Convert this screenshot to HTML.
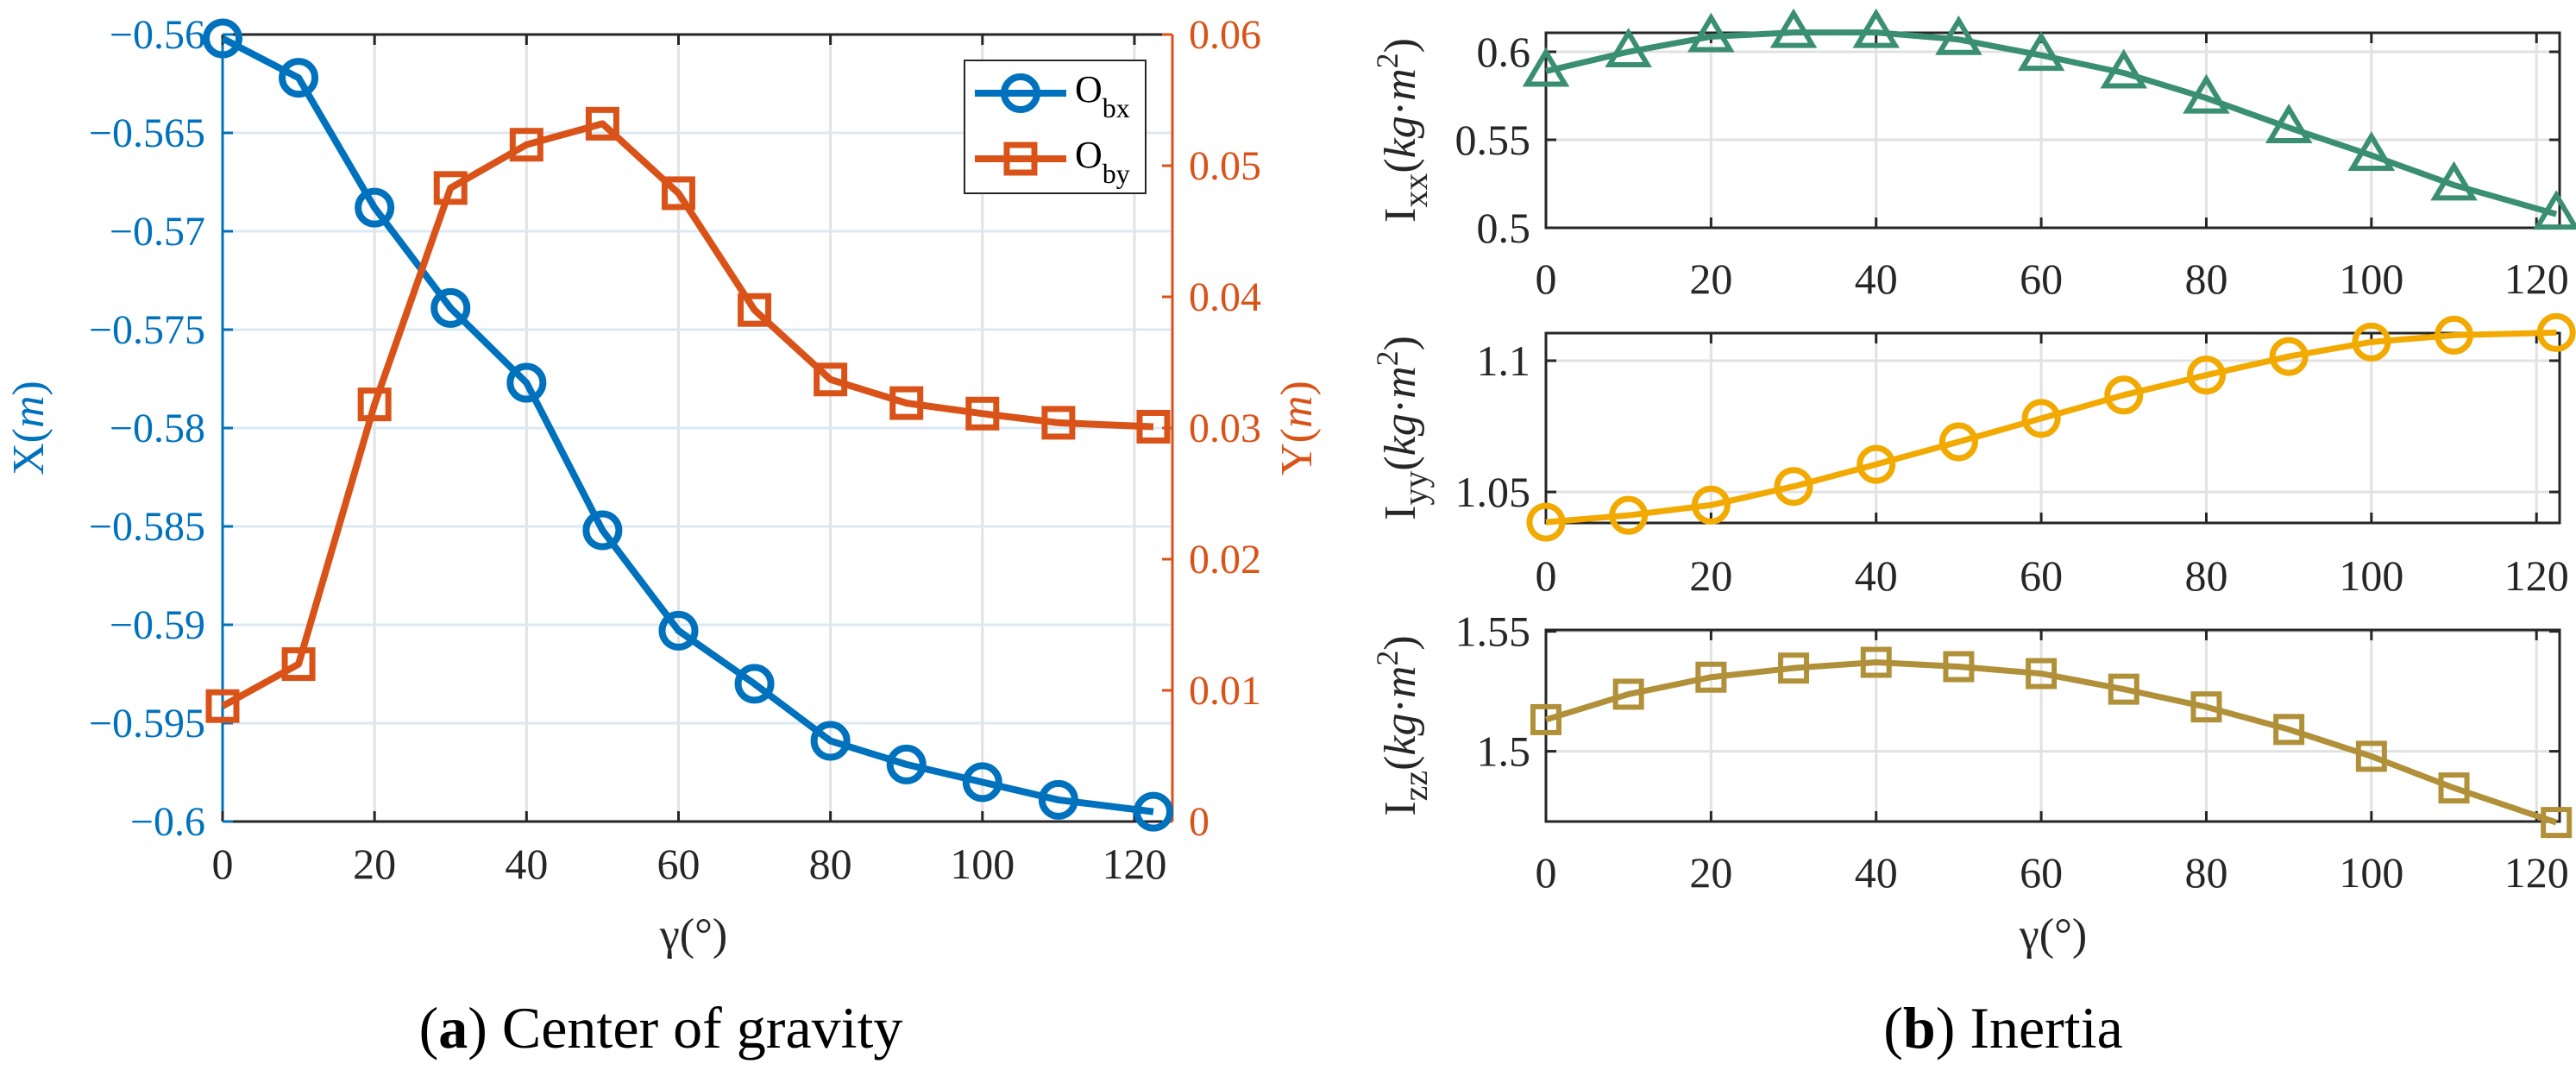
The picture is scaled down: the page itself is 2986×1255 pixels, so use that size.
<!DOCTYPE html>
<html><head><meta charset="utf-8"><style>
html,body{margin:0;padding:0;background:#fff;}
svg{display:block;font-family:"Liberation Serif",serif;}
</style></head><body>
<svg id="fig" width="2986" height="1255" viewBox="0 0 2986 1255"></svg>
<script>
const gammaA=[0,10,20,30,40,50,60,70,80,90,100,110,122.5];
const obx=[-0.5602,-0.5622,-0.5688,-0.5739,-0.5777,-0.5852,-0.5903,-0.5930,-0.5959,-0.5971,-0.5980,-0.5989,-0.5995];
const oby=[0.0088,0.0120,0.0318,0.0483,0.0516,0.0532,0.0479,0.0390,0.0337,0.0319,0.0311,0.0304,0.0301];
const gammaB=[0,10,20,30,40,50,60,70,80,90,100,110,122.4];
const ixx=[0.589,0.600,0.6086,0.611,0.611,0.607,0.598,0.588,0.5737,0.5569,0.5412,0.5243,0.5078];
const iyy=[1.0385,1.0411,1.045,1.0521,1.0605,1.0691,1.078,1.0869,1.0945,1.1016,1.1071,1.1097,1.1107];
const izz=[1.5132,1.5238,1.5309,1.5347,1.5371,1.5353,1.5324,1.5259,1.5185,1.5091,1.4979,1.4847,1.4703];
const xTicks=[0,20,40,60,80,100,120];
const leftTicks=[-0.56,-0.565,-0.57,-0.575,-0.58,-0.585,-0.59,-0.595,-0.6];
const leftTickLabels=["−0.56","−0.565","−0.57","−0.575","−0.58","−0.585","−0.59","−0.595","−0.6"];
const rightTicks=[0,0.01,0.02,0.03,0.04,0.05,0.06];
const rightTickLabels=["0","0.01","0.02","0.03","0.04","0.05","0.06"];
const ixxTicks=[0.5,0.55,0.6], ixxLabels=["0.5","0.55","0.6"];
const iyyTicks=[1.05,1.1], iyyLabels=["1.05","1.1"];
const izzTicks=[1.5,1.55], izzLabels=["1.5","1.55"];

const NS="http://www.w3.org/2000/svg";
const svg=document.getElementById('fig');
function el(tag,attrs,parent){const e=document.createElementNS(NS,tag);for(const k in attrs)e.setAttribute(k,attrs[k]);(parent||svg).appendChild(e);return e;}
function lin(d0,d1,r0,r1){return v=>r0+(v-d0)/(d1-d0)*(r1-r0);}

const BLUE="#0072BD",ORANGE="#D95319",GREEN="#3A8F72",YEL="#F2A900",OLIVE="#B09038";

// ---------- Left chart ----------
const L={x0:258,x1:1359,y0:40,y1:952};
const xa=lin(0,125,L.x0,L.x1);
const yl=lin(-0.6,-0.56,L.y1,L.y0);
const yr=lin(0,0.06,L.y1,L.y0);
const gA=el('g',{});


xTicks.forEach(t=>{const l=el('line',{x1:xa(t),x2:xa(t),y1:L.y0,y2:L.y1,stroke:'#e2e2e2','stroke-width':3},gA);
});
leftTicks.forEach(t=>{const l=el('line',{x1:L.x0,x2:L.x1,y1:yl(t),y2:yl(t),stroke:'#dbe9f4','stroke-width':3},gA);
});
el('line',{x1:L.x0,x2:L.x1,y1:L.y0,y2:L.y0,stroke:'#262626','stroke-width':3},gA);
el('line',{x1:L.x0,x2:L.x1,y1:L.y1,y2:L.y1,stroke:'#262626','stroke-width':3},gA);
el('line',{x1:L.x0,x2:L.x0,y1:L.y0,y2:L.y1,stroke:BLUE,'stroke-width':3},gA);
el('line',{x1:L.x1,x2:L.x1,y1:L.y0,y2:L.y1,stroke:ORANGE,'stroke-width':3},gA);
xTicks.forEach(t=>{el('line',{x1:xa(t),x2:xa(t),y1:L.y1,y2:L.y1-12,stroke:'#262626','stroke-width':3},gA);
el('line',{x1:xa(t),x2:xa(t),y1:L.y0,y2:L.y0+12,stroke:'#262626','stroke-width':3},gA);
const tx=el('text',{x:xa(t),y:1018,'font-size':50,fill:'#262626','text-anchor':'middle'},gA);tx.textContent=t;
});
leftTicks.forEach((t,i)=>{el('line',{x1:L.x0,x2:L.x0+12,y1:yl(t),y2:yl(t),stroke:BLUE,'stroke-width':3},gA);
const tx=el('text',{x:238,y:yl(t)+16,'font-size':48,fill:BLUE,'text-anchor':'end'},gA);tx.textContent=leftTickLabels[i];
});
rightTicks.forEach((t,i)=>{el('line',{x1:L.x1,x2:L.x1-12,y1:yr(t),y2:yr(t),stroke:ORANGE,'stroke-width':3},gA);
const tx=el('text',{x:1378,y:yr(t)+16,'font-size':48,fill:ORANGE},gA);tx.textContent=rightTickLabels[i];
});
// series
const pb=gammaA.map((g,i)=>xa(g)+','+yl(obx[i])).join(' ');
const lb=el('polyline',{points:pb,fill:'none',stroke:BLUE,'stroke-width':8,'stroke-linejoin':'round'},gA);

gammaA.forEach((g,i)=>{const c=el('circle',{cx:xa(g),cy:yl(obx[i]),r:19,fill:'none',stroke:BLUE,'stroke-width':8},gA);
});
const po=gammaA.map((g,i)=>xa(g)+','+yr(oby[i])).join(' ');
const lo=el('polyline',{points:po,fill:'none',stroke:ORANGE,'stroke-width':8,'stroke-linejoin':'round'},gA);

gammaA.forEach((g,i)=>{const r=el('rect',{x:xa(g)-16,y:yr(oby[i])-16,width:32,height:32,fill:'none',stroke:ORANGE,'stroke-width':7},gA);
});
// legend
const lg=el('g',{},gA);

el('rect',{x:1118,y:70,width:210,height:154,fill:'#fff',stroke:'#262626','stroke-width':2},lg);
el('line',{x1:1130,x2:1236,y1:108,y2:108,stroke:BLUE,'stroke-width':8},lg);
el('circle',{cx:1183,cy:108,r:19,fill:'none',stroke:BLUE,'stroke-width':8},lg);
el('line',{x1:1130,x2:1236,y1:184,y2:184,stroke:ORANGE,'stroke-width':8},lg);
el('rect',{x:1167,y:168,width:32,height:32,fill:'none',stroke:ORANGE,'stroke-width':7},lg);
let t1=el('text',{x:1246,y:118,'font-size':44,fill:'#000'},lg);t1.innerHTML='O<tspan font-size="32" dy="18">bx</tspan>';

let t2=el('text',{x:1246,y:194,'font-size':44,fill:'#000'},lg);t2.innerHTML='O<tspan font-size="32" dy="18">by</tspan>';

// axis titles
let xt=el('text',{x:50,y:496,'font-size':52,fill:BLUE,'text-anchor':'middle',transform:'rotate(-90 50 496)'},gA);
xt.innerHTML='X(<tspan font-style="italic">m</tspan>)';
let yt=el('text',{x:1520,y:496,'font-size':52,fill:ORANGE,'text-anchor':'middle',transform:'rotate(-90 1520 496)'},gA);
yt.innerHTML='Y(<tspan font-style="italic">m</tspan>)';
let gx=el('text',{x:804,y:1100,'font-size':52,fill:'#262626','text-anchor':'middle'},gA);gx.textContent='γ(°)';

let ca=el('text',{x:766,y:1214,'font-size':68,fill:'#000','text-anchor':'middle'},gA);
ca.innerHTML='(<tspan font-weight="bold">a</tspan>) Center of gravity';

// ---------- Right charts ----------
const xb=lin(0,122.8,1792,2967);
function panel(name,y0,y1,d0,d1,ticks,labels,vals,color,marker,sub,tickY){
  const g=el('g',{});
  
  
  const y=lin(d0,d1,y1,y0);
  xTicks.forEach(t=>{const l=el('line',{x1:xb(t),x2:xb(t),y1:y0,y2:y1,stroke:'#e2e2e2','stroke-width':3},g);
  });
  ticks.forEach(t=>{const l=el('line',{x1:1792,x2:2967,y1:y(t),y2:y(t),stroke:'#e2e2e2','stroke-width':3},g);
  });
  el('rect',{x:1792,y:y0,width:2967-1792,height:y1-y0,fill:'none',stroke:'#262626','stroke-width':3},g);
  xTicks.forEach(t=>{el('line',{x1:xb(t),x2:xb(t),y1:y1,y2:y1-12,stroke:'#262626','stroke-width':3},g);
  el('line',{x1:xb(t),x2:xb(t),y1:y0,y2:y0+12,stroke:'#262626','stroke-width':3},g);
  const tx=el('text',{x:xb(t),y:tickY,'font-size':50,fill:'#262626','text-anchor':'middle'},g);tx.textContent=t;
  });
  ticks.forEach((t,i)=>{el('line',{x1:1792,x2:1804,y1:y(t),y2:y(t),stroke:'#262626','stroke-width':3},g);
  el('line',{x1:2967,x2:2955,y1:y(t),y2:y(t),stroke:'#262626','stroke-width':3},g);
  const tx=el('text',{x:1774,y:y(t)+17,'font-size':50,fill:'#262626','text-anchor':'end'},g);tx.textContent=labels[i];
  });
  const pts=gammaB.map((gm,i)=>xb(gm)+','+y(vals[i])).join(' ');
  const pl=el('polyline',{points:pts,fill:'none',stroke:color,'stroke-width':7,'stroke-linejoin':'round'},g);
  
  gammaB.forEach((gm,i)=>{const cx=xb(gm),cy=y(vals[i]);let m;
    if(marker==='tri') m=el('polygon',{points:`${cx},${cy-22} ${cx-22},${cy+15} ${cx+22},${cy+15}`,fill:'none',stroke:color,'stroke-width':6},g);
    else if(marker==='circ') m=el('circle',{cx:cx,cy:cy,r:19,fill:'none',stroke:color,'stroke-width':7},g);
    else m=el('rect',{x:cx-15,y:cy-15,width:30,height:30,fill:'none',stroke:color,'stroke-width':6},g);
    });
  const cy=(y0+y1)/2;
  const yt=el('text',{x:1640,y:cy,'font-size':52,fill:'#262626','text-anchor':'middle',transform:`rotate(-90 1640 ${cy})`},g);
  yt.innerHTML=`I<tspan font-size="40" dy="14">${sub}</tspan><tspan dy="-14">(</tspan><tspan font-style="italic">kg</tspan>·<tspan font-style="italic">m</tspan><tspan font-size="36" dy="-20">2</tspan><tspan dy="20">)</tspan>`;
  
}
panel('ixx-chart',38,264,0.5,0.6108,ixxTicks,ixxLabels,ixx,GREEN,'tri','xx',340);
panel('iyy-chart',386,606,1.0382,1.1105,iyyTicks,iyyLabels,iyy,YEL,'circ','yy',684);
panel('izz-chart',730,952,1.4707,1.5506,izzTicks,izzLabels,izz,OLIVE,'sq','zz',1028);
let gx2=el('text',{x:2380,y:1100,'font-size':52,fill:'#262626','text-anchor':'middle'});gx2.textContent='γ(°)';

let cb=el('text',{x:2322,y:1214,'font-size':68,fill:'#000','text-anchor':'middle'});
cb.innerHTML='(<tspan font-weight="bold">b</tspan>) Inertia';
</script>
</body></html>
